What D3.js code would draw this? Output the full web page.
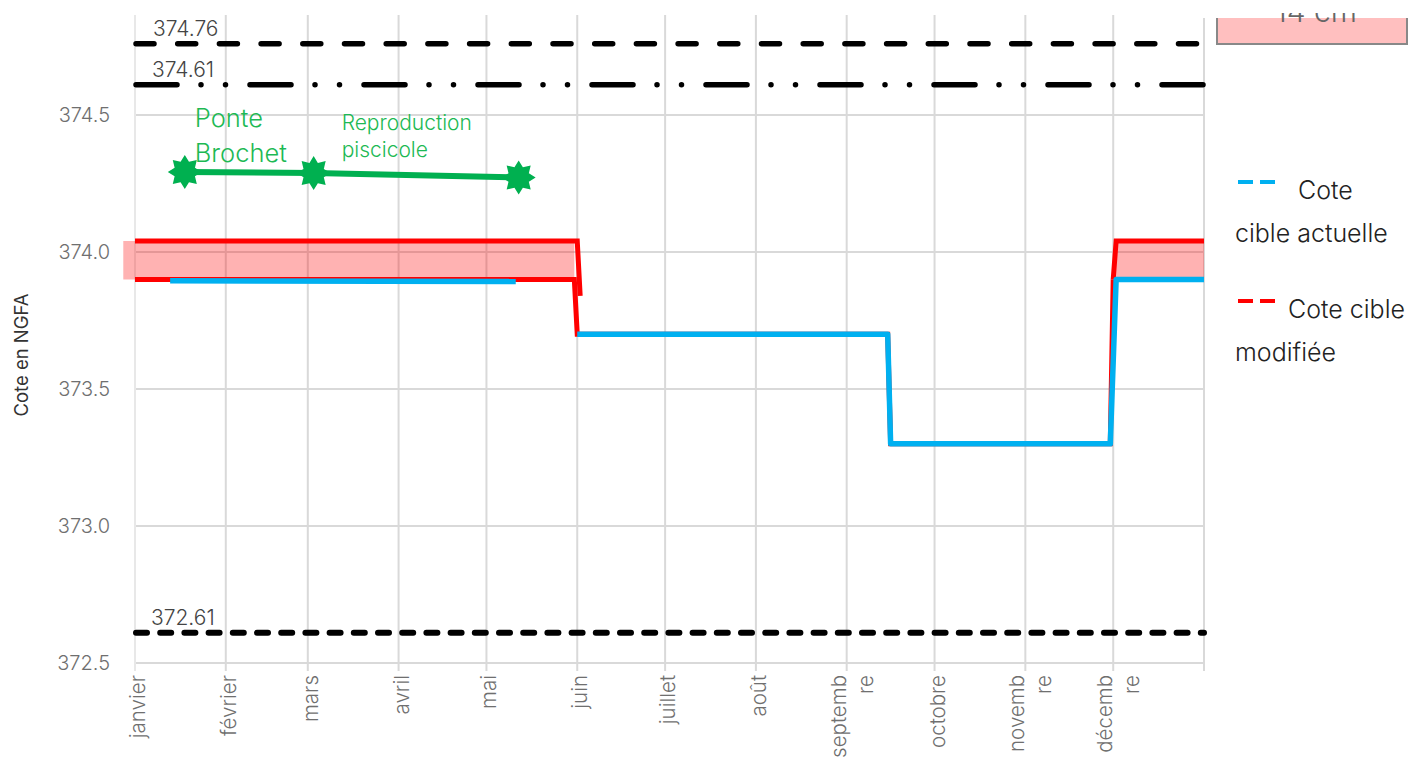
<!DOCTYPE html>
<html><head><meta charset="utf-8">
<script src="https://cdn.jsdelivr.net/npm/d3@7"></script>
<style>
body{margin:0;background:#fff;}
svg text{font-family:Inter,"Noto Sans",sans-serif;}
</style>
</head><body>
<svg id="c" width="1413" height="762"></svg>
<script>
// ---------- DATA ----------
const monthStarts = ["2023-01-01","2023-02-01","2023-03-01","2023-04-01","2023-05-01","2023-06-01",
  "2023-07-01","2023-08-01","2023-09-01","2023-10-01","2023-11-01","2023-12-01","2024-01-01"];
const monthLabels = [["janvier"],["février"],["mars"],["avril"],["mai"],["juin"],["juillet"],["août"],
  ["septemb","re"],["octobre"],["novemb","re"],["décemb","re"],[]];
const yTicks = [372.5, 373.0, 373.5, 374.0, 374.5];
const refValues = [374.76, 374.61, 372.61];
const refLabels = ["374.76", "374.61", "372.61"];

// Cote cible actuelle (blue)
const actuelleA = [["2023-01-13",373.895],["2023-05-11",373.892]];
const actuelleB = [["2023-06-01",373.7],["2023-09-15",373.7],["2023-09-16",373.3],["2023-11-30",373.3],
  ["2023-12-02",373.9],["2024-01-01",373.9]];
// Cote cible modifiée (red)
const modifieeHaute = [["2023-01-01",374.04],["2023-06-01",374.04],["2023-06-02",373.84]];
const modifieeBasse = [["2023-01-01",373.9],["2023-05-31",373.9],["2023-06-01",373.7],["2023-09-15",373.7],
  ["2023-09-16",373.3],["2023-11-30",373.3],["2023-12-01",373.9]];
const modifieeDec = [["2023-12-01",373.9],["2023-12-02",374.04],["2024-01-01",374.04]];
// band +14 cm
const bandA = [["2022-12-28",373.9,374.04],["2023-05-31",373.9,374.04]];
const bandB = [["2023-12-01",373.9,373.9],["2023-12-02",373.9,374.04],["2024-01-01",373.9,374.04]];
// Ponte Brochet / Reproduction piscicole
const ponte = [["2023-01-18",374.292],["2023-03-03",374.288],["2023-05-12",374.272]];

const legendItems = [["Cote","cible actuelle"],["Cote cible","modifiée"]];
const boxLabel = "14 cm";

// ---------- CHART ----------
const parse = d3.timeParse("%Y-%m-%d");
const svg = d3.select("#c");
const x = d3.scaleTime().domain([parse("2023-01-01"), parse("2024-01-01")]).range([135, 1204]);
const y = d3.scaleLinear().domain([372.5, 374.5]).range([663, 115]);
const topY = 15;
const grid = "#d9d9d9";

// horizontal grid
svg.append("g").selectAll("line").data(yTicks).join("line")
  .attr("x1", x.range()[0]).attr("x2", x.range()[1])
  .attr("y1", d => y(d)).attr("y2", d => y(d))
  .attr("stroke", grid).attr("stroke-width", 2);
// vertical grid + ticks
svg.append("g").selectAll("line").data(monthStarts).join("line")
  .attr("x1", d => x(parse(d))).attr("x2", d => x(parse(d)))
  .attr("y1", topY).attr("y2", y(372.5) + 8)
  .attr("stroke", (d,i) => i === 0 ? "#e8e8e8" : grid).attr("stroke-width", 2);

// y tick labels
svg.append("g").selectAll("text").data(yTicks).join("text")
  .attr("x", 110).attr("y", d => y(d)).attr("dy", "0.36em")
  .attr("text-anchor", "end").attr("font-size", 20).attr("font-weight", 300)
  .attr("fill", "#6f6f6f").text(d => d3.format(".1f")(d));

// x tick labels (rotated)
const xl = svg.append("g");
monthStarts.forEach((d, i) => {
  const lines = monthLabels[i];
  const px = x(parse(d));
  lines.forEach((t, j) => {
    const base = lines.length === 1 ? px + 10 : px - 1 + j * 27;
    xl.append("text")
      .attr("transform", `translate(${base},675) rotate(-90)`)
      .attr("text-anchor", "end").attr("font-size", 20.5).attr("font-weight", 300)
      .attr("fill", "#6f6f6f").text(t);
  });
});

// y axis title
svg.append("text").attr("transform", "translate(28,355) rotate(-90)")
  .attr("text-anchor", "middle").attr("font-size", 18.5).attr("font-weight", 400)
  .attr("fill", "#333").text("Cote en NGFA");

// band
const area = d3.area().x(d => x(parse(d[0]))).y0(d => y(d[1])).y1(d => y(d[2]));
[bandA, bandB].forEach(b => svg.append("path").attr("d", area(b))
  .attr("fill", "rgba(255,0,0,0.3)"));

const line = d3.line().x(d => x(parse(d[0]))).y(d => y(d[1]));
// red
[modifieeBasse, modifieeHaute, modifieeDec].forEach(s => svg.append("path").attr("d", line(s))
  .attr("fill", "none").attr("stroke", "#ff0000").attr("stroke-width", 5).attr("stroke-linejoin", "miter"));
// blue
[actuelleA, actuelleB].forEach(s => svg.append("path").attr("d", line(s))
  .attr("fill", "none").attr("stroke", "#00b0f0").attr("stroke-width", 5.5).attr("stroke-linejoin", "round"));

// reference black lines
const refStyles = [
  {dash: "18,23.7", w: 5.5},
  {dash: "41,24,0,24.5,0,24.5", w: 5.5},
  {dash: "11,13.2", w: 6}
];
refValues.forEach((v, i) => {
  svg.append("line").attr("x1", x.range()[0] + 1).attr("x2", x.range()[1])
    .attr("y1", y(v)).attr("y2", y(v))
    .attr("stroke", "#000").attr("stroke-width", refStyles[i].w)
    .attr("stroke-dasharray", refStyles[i].dash).attr("stroke-linecap", "round");
  svg.append("text").attr("x", x.range()[0] + 18 - i).attr("y", y(v) - 8)
    .attr("font-size", 21).attr("font-weight", 300).attr("fill", "#444").text(refLabels[i]);
});

// green spawning line + stars
const green = "#00b050";
svg.append("path").attr("d", line(ponte)).attr("fill", "none")
  .attr("stroke", green).attr("stroke-width", 6);
function starPath(n, ro, ri) {
  const pts = [];
  for (let k = 0; k < 2 * n; k++) {
    const r = k % 2 === 0 ? ro : ri;
    const a = -Math.PI / 2 + k * Math.PI / n;
    pts.push([r * Math.cos(a), r * Math.sin(a)]);
  }
  return "M" + pts.map(p => p.join(",")).join("L") + "Z";
}
svg.append("g").selectAll("path").data(ponte).join("path")
  .attr("transform", d => `translate(${x(parse(d[0]))},${y(d[1])})`)
  .attr("d", starPath(8, 17, 11)).attr("fill", green);

const gText = "#1db954";
const p0 = ponte[0], p1 = ponte[1];
[["Ponte", -45], ["Brochet", -10]].forEach(([t, dy]) =>
  svg.append("text").attr("x", x(parse(p0[0])) + 10).attr("y", y(p0[1]) + dy)
    .attr("font-size", 25.5).attr("font-weight", 300).attr("fill", gText).text(t));
[["Reproduction", -43], ["piscicole", -16]].forEach(([t, dy]) =>
  svg.append("text").attr("x", x(parse(p1[0])) + 28).attr("y", y(p1[1]) + dy)
    .attr("font-size", 21).attr("font-weight", 300).attr("fill", gText).text(t));

// legend
const lg = svg.append("g");
const legColors = ["#00b0f0", "#ff0000"];
const legY = [182, 301];
legendItems.forEach((it, i) => {
  [0, 22].forEach(o => lg.append("line").attr("x1", 1238 + o).attr("x2", 1253 + o)
    .attr("y1", legY[i]).attr("y2", legY[i]).attr("stroke", legColors[i]).attr("stroke-width", 4));
  lg.append("text").attr("x", i === 0 ? 1298 : 1288).attr("y", legY[i] + 17)
    .attr("font-size", 25).attr("font-weight", 300).attr("fill", "#222").text(it[0]);
  lg.append("text").attr("x", 1235).attr("y", legY[i] + 60)
    .attr("font-size", 25).attr("font-weight", 300).attr("fill", "#222").text(it[1]);
});

// top box (partially out of view)
const defs = svg.append("defs");
defs.append("clipPath").attr("id", "clipTop").append("rect")
  .attr("x", 1200).attr("y", 13).attr("width", 213).attr("height", 60);
const tb = svg.append("g").attr("clip-path", "url(#clipTop)");
tb.append("rect").attr("x", 1217).attr("y", -20).attr("width", 190).attr("height", 64)
  .attr("fill", "#ffbfbf").attr("stroke", "#888").attr("stroke-width", 2);
tb.append("rect").attr("x", 1200).attr("y", 0).attr("width", 213).attr("height", 18).attr("fill", "#fff");
tb.append("text").attr("x", 1316).attr("y", 22).attr("text-anchor", "middle")
  .attr("font-size", 30).attr("font-weight", 300).attr("fill", "#666").text(boxLabel);
</script>
</body></html>
